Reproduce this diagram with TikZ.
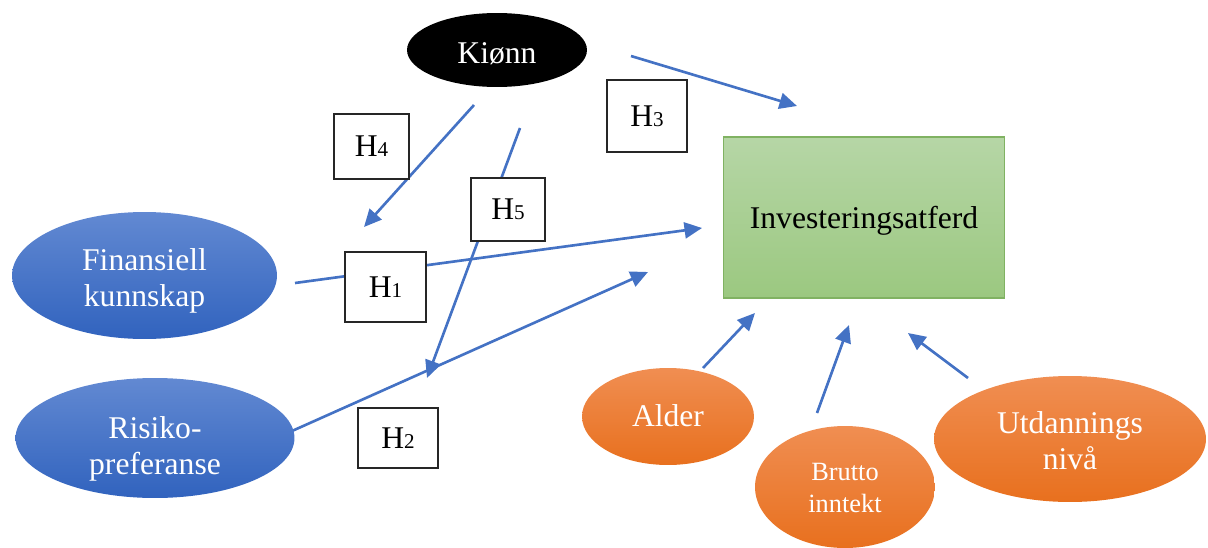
\documentclass[tikz,border=0pt]{standalone}
\usepackage{fontspec}
\setmainfont{Liberation Serif}
\usetikzlibrary{arrows.meta,shapes.geometric}

\definecolor{arrowblue}{RGB}{68,114,196}
\definecolor{blueTop}{RGB}{98,137,210}
\definecolor{blueBot}{RGB}{49,99,190}
\definecolor{orangeTop}{RGB}{240,142,82}
\definecolor{orangeBot}{RGB}{232,112,30}
\definecolor{greenTop}{RGB}{182,214,166}
\definecolor{greenBot}{RGB}{155,200,128}
\definecolor{greenEdge}{RGB}{128,178,98}

\tikzset{
	oval/.style={ellipse, inner sep=0pt, align=center, text=white, font=\fontsize{18}{20.5}\selectfont},
	blueoval/.style={oval, top color=blueTop, bottom color=blueBot},
	orangeoval/.style={oval, top color=orangeTop, bottom color=orangeBot},
	hbox/.style={draw=black!85, fill=white, line width=0.6pt, inner sep=0pt, font=\fontsize{18}{20}\selectfont},
	arr/.style={draw=arrowblue, line width=1.5pt, -{Triangle[length=3.5mm,width=3.2mm]}}
}
\newcommand{\hyp}[1]{H{\fontsize{12}{14}\selectfont #1}}
% text set lower in its shape, the shape keeps its size
\newcommand{\lowtext}[2]{\raisebox{-#1}[\height][\depth]{\begin{tabular}{@{}c@{}}#2\end{tabular}}}

\begin{document}
\begin{tikzpicture}[x=0.02cm, y=-0.02cm]
		%%%%% START %%%%%
		\useasboundingbox (0, 0) rectangle (1208, 548);
		
		% arrow ends
		\coordinate (k3s) at (631, 56);  \coordinate (k3e) at (797, 106);
		\coordinate (k4s) at (474, 105); \coordinate (k4e) at (364, 227);
		\coordinate (k5s) at (520, 128); \coordinate (k5e) at (427, 378);
		\coordinate (f1s) at (295, 283); \coordinate (f1e) at (702, 228);
		\coordinate (r2s) at (292, 431); \coordinate (r2e) at (648, 272);
		\coordinate (als) at (703, 368); \coordinate (ale) at (755, 313);
		\coordinate (brs) at (817, 413); \coordinate (bre) at (849, 325);
		\coordinate (uds) at (968, 378); \coordinate (ude) at (908, 333);
		
		\draw[arr] (k3s) -- (k3e);
		\draw[arr] (k4s) -- (k4e);
		\draw[arr] (k5s) -- (k5e);
		\draw[arr] (f1s) -- (f1e);
		\draw[arr] (r2s) -- (r2e);
		\draw[arr] (als) -- (ale);
		\draw[arr] (brs) -- (bre);
		\draw[arr] (uds) -- (ude);
		
		% factors
		\node[oval, fill=black, minimum width=3.6cm, minimum height=1.48cm] (kjonn) at (497, 50) {\lowtext{0.12cm}{Kiønn}};
		\node[blueoval, minimum width=5.3cm, minimum height=2.54cm] (finans) at (144.5, 275.5) {\lowtext{0.12cm}{Finansiell\\kunnskap}};
		\node[blueoval, minimum width=5.58cm, minimum height=2.4cm] (risiko) at (155, 438) {\lowtext{0.23cm}{Risiko-\\preferanse}};
		\node[orangeoval, minimum width=3.44cm, minimum height=1.94cm] (alder) at (668, 416.5) {\lowtext{0.05cm}{Alder}};
		\node[orangeoval, minimum width=3.6cm, minimum height=2.44cm, font=\fontsize{15}{18}\selectfont] (brutto) at (845, 487) {\lowtext{0.06cm}{Brutto\\inntekt}};
		\node[orangeoval, minimum width=5.44cm, minimum height=2.52cm] (utdanning) at (1070, 439) {\lowtext{0.1cm}{Utdannings\\nivå}};
		
		\node[draw=greenEdge, line width=0.6pt, top color=greenTop, bottom color=greenBot, minimum width=5.62cm, minimum height=3.22cm, font=\fontsize{18}{20}\selectfont] (invest) at (864, 217.5) {\lowtext{0.08cm}{Investeringsatferd}};
		
		% hypotheses
		\node[hbox, minimum width=1.6cm, minimum height=1.44cm] (h3) at (647, 116) {\hyp{3}};
		\node[hbox, minimum width=1.5cm, minimum height=1.3cm] (h4) at (371.5, 146.5) {\hyp{4}};
		\node[hbox, minimum width=1.48cm, minimum height=1.26cm] (h5) at (508, 209.5) {\hyp{5}};
		\node[hbox, minimum width=1.62cm, minimum height=1.4cm] (h1) at (385.5, 287) {\hyp{1}};
		\node[hbox, minimum width=1.6cm, minimum height=1.2cm] (h2) at (398, 438) {\hyp{2}};
		
		%%%%% END %%%%%
\end{tikzpicture}
\end{document}
